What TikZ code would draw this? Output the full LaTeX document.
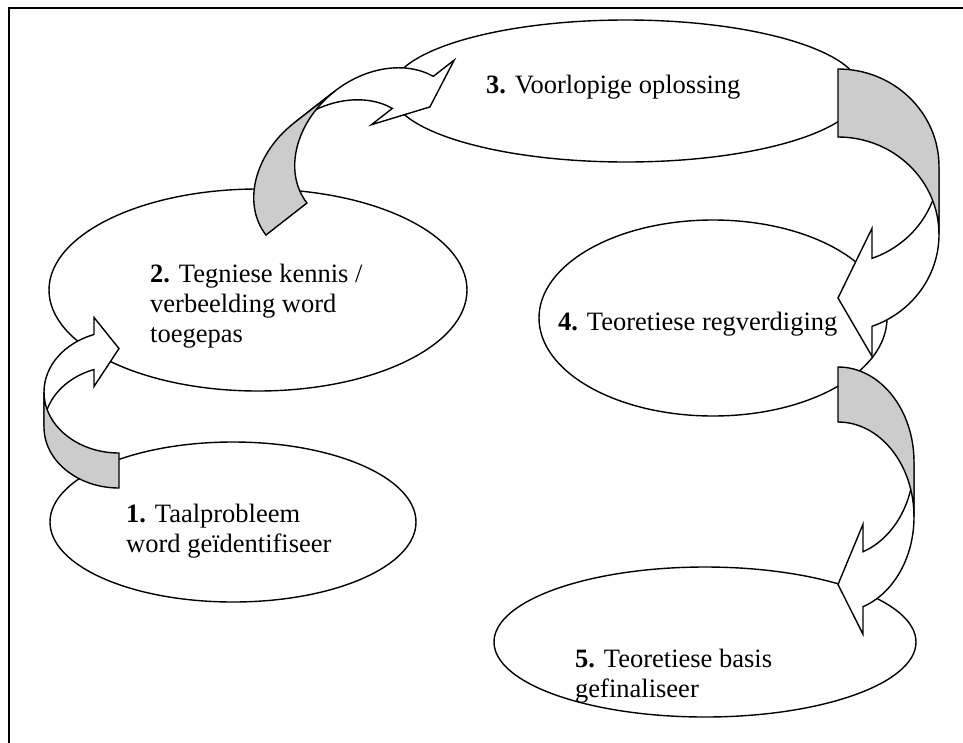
\documentclass[tikz,border=0pt]{standalone}
\usepackage{fontspec}
\setmainfont{Liberation Serif}
\usetikzlibrary{shapes.geometric}
\definecolor{backgray}{RGB}{204,204,204}
\tikzset{
  stage/.style={draw=black, fill=white, ellipse, line width=1.4pt, inner sep=0pt, outer sep=0pt},
  stagetext/.style={anchor=base west, inner sep=0pt, font=\fontsize{26.5}{30}\selectfont},
  frontface/.style={draw=black, fill=white, line width=1.4pt, line join=miter},
  backface/.style={draw=black, fill=backgray, line width=1.4pt, line join=miter},
  frameline/.style={line width=1.5pt},
}
% Bent block arrow: #1,#2 = outer corner of the tail, #3 = rotation,
% #4 = half width of the bend, #5 = vertical radius, #6 = band thickness,
% #7 = head length, #8 = head width
\newcommand\bentarrow[8]{%
  \pgfmathsetmacro\ba{acos(#7/#4)}%
  \pgfmathsetmacro\bdy{#5*sin(\ba)}%
  \pgfmathsetmacro\bdh{(#8-#6)/2}%
  \begin{scope}[shift={(#1,#2)},rotate=#3]
    \filldraw[frontface] (-#4,{-#5-#6})
      arc[start angle=180,end angle={180+\ba},x radius=#4,y radius=#5]
      -- (-#7,{-#5-#6-\bdy-\bdh}) -- (0,{-2*#5-#6/2}) -- (-#7,{-#5-\bdy+\bdh})
      -- (-#7,{-#5-\bdy})
      arc[start angle={180+\ba},end angle=180,x radius=#4,y radius=#5] -- cycle;
    \filldraw[backface] (0,0)
      arc[start angle=90,end angle=180,x radius=#4,y radius=#5]
      -- (-#4,{-#5-#6})
      arc[start angle=180,end angle=90,x radius=#4,y radius=#5] -- cycle;
  \end{scope}}

\begin{document}
\begin{tikzpicture}[x=1pt,y=-1pt]
\useasboundingbox (0,0) rectangle (963,742);
\draw[frameline] (9,752) -- (9,8) -- (972,8);

% the five stages
\node[stage, minimum width=366pt, minimum height=160pt] (e1) at (233,522) {};
\node[stage, minimum width=418pt, minimum height=202pt] (e2) at (258,290) {};
\node[stage, minimum width=470pt, minimum height=142pt] (e3) at (626,91) {};
\node[stage, minimum width=348pt, minimum height=196pt] (e4) at (713,318) {};
\node[stage, minimum width=422pt, minimum height=150pt] (e5) at (705,642) {};

\node[stagetext] (t1) at (126,522) {\begin{tabular}[t]{@{}l@{}}\textbf{1.} Taalprobleem\\ word geïdentifiseer\end{tabular}};
\node[stagetext] (t2) at (150,282) {\begin{tabular}[t]{@{}l@{}}\textbf{2.} Tegniese kennis /\\ verbeelding word\\ toegepas\end{tabular}};
\node[stagetext] (t3) at (486,93) {\textbf{3.} Voorlopige oplossing};
\node[stagetext] (t4) at (558,330) {\textbf{4.} Teoretiese regverdiging};
\node[stagetext] (t5) at (575,667) {\begin{tabular}[t]{@{}l@{}}\textbf{5.} Teoretiese basis\\ gefinaliseer\end{tabular}};

% bent arrows leading from stage to stage
\bentarrow{119}{488}{0}{75}{61}{35}{25}{69}
\bentarrow{266}{235}{-52}{71}{91}{52}{22}{105}
\bentarrow{838}{69}{180}{101}{97.5}{68}{34}{128}
\bentarrow{838}{367}{180}{76}{95}{55}{25}{110}
\end{tikzpicture}
\end{document}
